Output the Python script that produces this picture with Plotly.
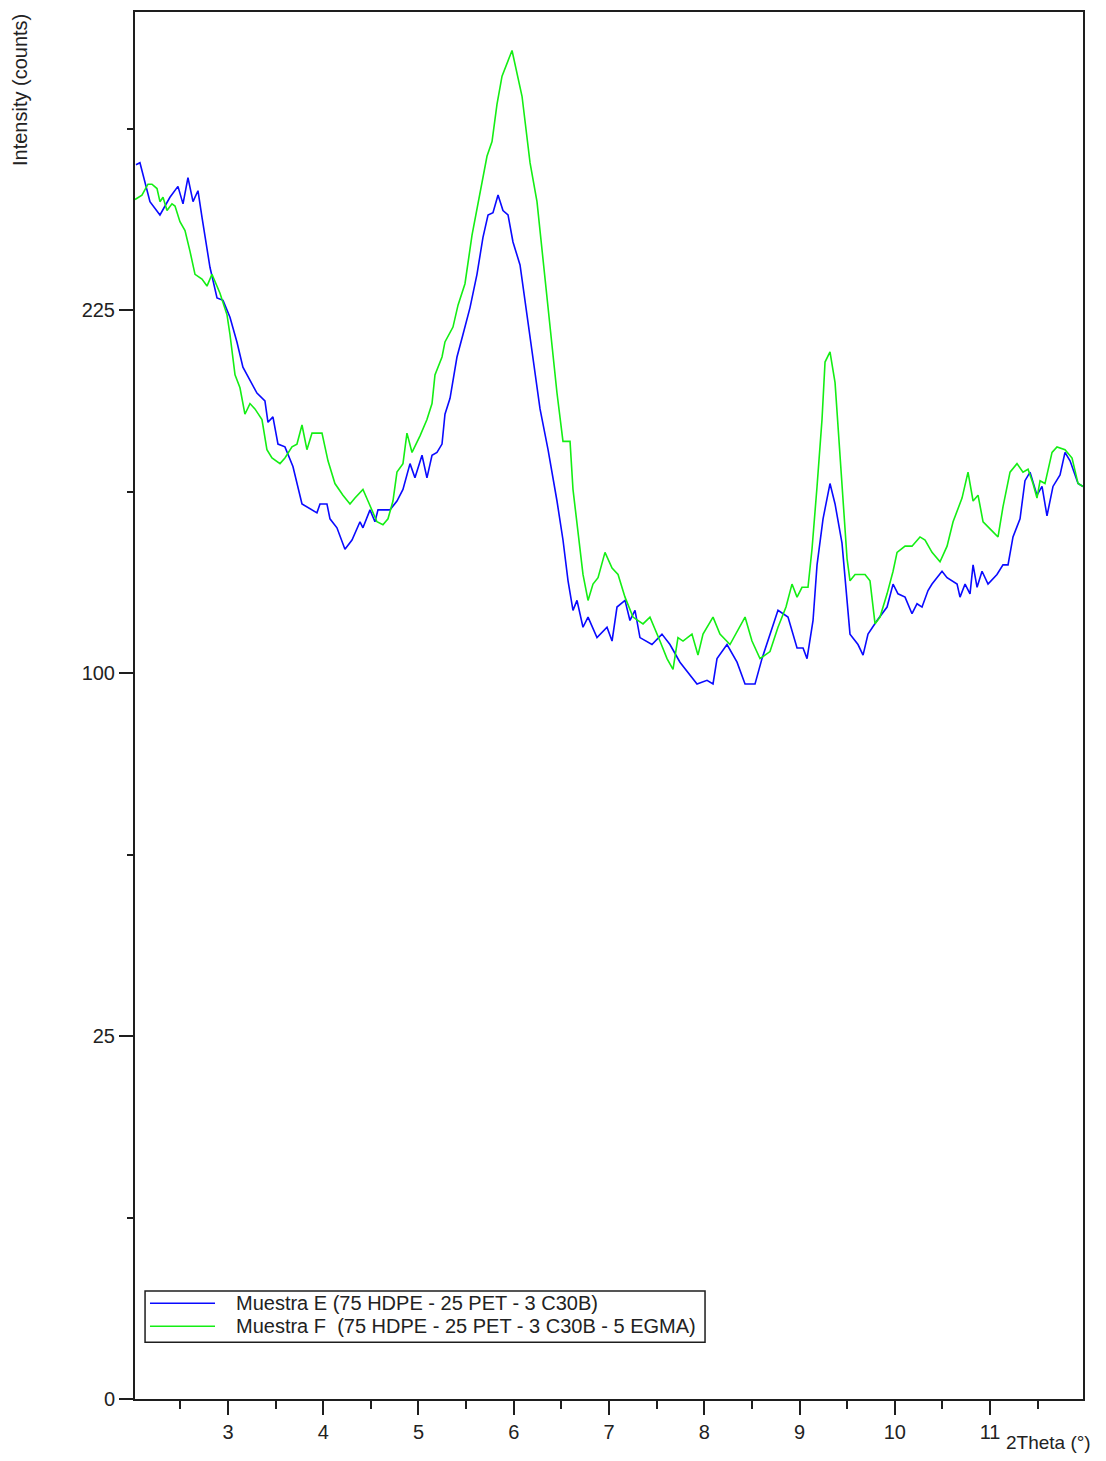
import numpy as np
import plotly.graph_objects as go

# 2Theta (deg) and intensity (counts)
theta_e = [2.034, 2.076, 2.181, 2.286, 2.391, 2.475, 2.528, 2.580, 2.633, 2.685,
           2.727, 2.811, 2.885, 2.948, 3.021, 3.094, 3.157, 3.231, 3.304, 3.388,
           3.420, 3.472, 3.525, 3.598, 3.682, 3.777, 3.882, 3.934, 3.966, 4.039,
           4.071, 4.144, 4.228, 4.302, 4.386, 4.417, 4.491, 4.543, 4.575, 4.701,
           4.774, 4.837, 4.911, 4.963, 5.037, 5.089, 5.142, 5.194, 5.247, 5.278,
           5.331, 5.404, 5.467, 5.541, 5.614, 5.677, 5.730, 5.782, 5.835, 5.887,
           5.940, 5.992, 6.066, 6.171, 6.276, 6.360, 6.454, 6.517, 6.570, 6.622,
           6.664, 6.727, 6.780, 6.874, 6.979, 7.032, 7.084, 7.168, 7.220, 7.273,
           7.325, 7.451, 7.556, 7.640, 7.745, 7.924, 8.029, 8.092, 8.134, 8.239,
           8.344, 8.428, 8.533, 8.606, 8.711, 8.774, 8.879, 8.974, 9.037, 9.079,
           9.142, 9.184, 9.247, 9.320, 9.373, 9.446, 9.530, 9.614, 9.667, 9.719,
           9.814, 9.919, 9.982, 10.034, 10.108, 10.181, 10.234, 10.286, 10.349, 10.391,
           10.496, 10.549, 10.654, 10.685, 10.738, 10.790, 10.822, 10.864, 10.916, 10.979,
           11.073, 11.136, 11.189, 11.241, 11.315, 11.367, 11.420, 11.493, 11.546, 11.598,
           11.661, 11.735, 11.787, 11.840, 11.924, 11.976]
counts_e = [289, 290, 272, 266, 274, 279, 271, 283, 272, 277,
            265, 243, 230, 229, 222, 212, 202, 197, 192, 189,
            181, 183, 173, 172, 165, 152, 150, 149, 152, 152,
            147, 144, 137, 140, 146, 144, 150, 146, 150, 150,
            153, 157, 166, 161, 169, 161, 169, 170, 173, 184,
            190, 206, 215, 226, 240, 256, 266, 267, 275, 268,
            266, 254, 244, 214, 186, 171, 153, 140, 127, 118,
            121, 113, 116, 110, 113, 109, 119, 121, 115, 118,
            110, 108, 111, 108, 103, 97, 98, 97, 104, 108,
            103, 97, 97, 104, 113, 118, 116, 107, 107, 104,
            115, 132, 147, 159, 152, 139, 111, 108, 105, 111,
            115, 119, 126, 123, 122, 117, 120, 119, 124, 126,
            130, 128, 126, 122, 126, 123, 132, 125, 130, 126,
            129, 132, 132, 141, 147, 160, 163, 155, 158, 148,
            158, 162, 170, 167, 159, 158]

theta_f = [2.024, 2.097, 2.160, 2.202, 2.255, 2.286, 2.318, 2.360, 2.412, 2.444,
           2.496, 2.549, 2.601, 2.654, 2.727, 2.780, 2.832, 2.916, 2.990, 3.021,
           3.074, 3.126, 3.178, 3.231, 3.283, 3.357, 3.409, 3.462, 3.546, 3.598,
           3.672, 3.724, 3.777, 3.829, 3.882, 3.987, 4.050, 4.123, 4.207, 4.281,
           4.333, 4.417, 4.470, 4.564, 4.627, 4.680, 4.732, 4.774, 4.837, 4.879,
           4.932, 5.016, 5.089, 5.142, 5.173, 5.247, 5.278, 5.362, 5.415, 5.488,
           5.562, 5.646, 5.719, 5.772, 5.824, 5.877, 5.982, 6.087, 6.171, 6.244,
           6.297, 6.349, 6.402, 6.454, 6.517, 6.591, 6.622, 6.696, 6.727, 6.780,
           6.832, 6.885, 6.958, 7.032, 7.095, 7.168, 7.252, 7.357, 7.430, 7.535,
           7.609, 7.672, 7.724, 7.777, 7.871, 7.934, 7.987, 8.092, 8.165, 8.270,
           8.428, 8.501, 8.585, 8.690, 8.774, 8.858, 8.921, 8.974, 9.026, 9.089,
           9.131, 9.184, 9.236, 9.268, 9.320, 9.373, 9.404, 9.457, 9.499, 9.530,
           9.583, 9.688, 9.740, 9.793, 9.845, 9.919, 9.982, 10.024, 10.108, 10.181,
           10.265, 10.318, 10.391, 10.475, 10.549, 10.612, 10.706, 10.769, 10.822, 10.874,
           10.927, 11.021, 11.084, 11.136, 11.210, 11.283, 11.346, 11.399, 11.451, 11.493,
           11.525, 11.577, 11.651, 11.703, 11.787, 11.861, 11.924, 11.976]
counts_f = [273, 275, 280, 280, 278, 272, 274, 268, 271, 270,
            263, 259, 250, 240, 238, 235, 240, 232, 223, 215,
            199, 194, 184, 188, 186, 182, 171, 168, 166, 168,
            172, 173, 180, 171, 177, 177, 167, 159, 155, 152,
            154, 157, 153, 146, 145, 147, 153, 163, 166, 177,
            170, 176, 182, 188, 199, 206, 212, 218, 227, 236,
            257, 276, 293, 300, 318, 332, 345, 322, 290, 272,
            251, 229, 211, 192, 174, 174, 157, 138, 129, 121,
            126, 128, 136, 131, 129, 122, 116, 114, 116, 109,
            104, 101, 110, 109, 111, 105, 111, 116, 111, 108,
            116, 109, 104, 106, 113, 119, 126, 122, 125, 125,
            137, 158, 182, 204, 208, 196, 179, 151, 134, 127,
            129, 129, 127, 114, 116, 123, 130, 136, 138, 138,
            141, 140, 136, 133, 138, 146, 154, 163, 153, 155,
            146, 143, 141, 151, 163, 166, 163, 164, 159, 154,
            160, 159, 170, 172, 171, 168, 159, 158]

series_names = ["Muestra E (75 HDPE - 25 PET - 3 C30B)",
                "Muestra F  (75 HDPE - 25 PET - 3 C30B - 5 EGMA)"]
series_colors = ["#0a0aff", "#14ee14"]

y_tick_counts = [0, 25, 100, 225]
y_minor_counts = [6.25, 56.25, 156.25, 306.25]
x_range = [2.024, 11.976]
y_top_counts = 365

FONT = "Liberation Sans, Arial, sans-serif"
AXIS_COLOR = "#1e1e1e"
TEXT_COLOR = "#222"


def legend_shapes():
    # hand-drawn legend box so the line samples are as long as in the original
    shapes = [dict(type="rect", xref="paper", yref="paper",
                   x0=0.0106, x1=0.6013, y0=0.0410, y1=0.0778,
                   line=dict(color=AXIS_COLOR, width=1.5), fillcolor="white")]
    for row, color in enumerate(series_colors):
        y = 0.0691 - row * 0.0166
        shapes.append(dict(type="line", xref="paper", yref="paper",
                           x0=0.0158, x1=0.0844, y0=y, y1=y,
                           line=dict(color=color, width=1.5)))
    return shapes


def legend_labels():
    notes = []
    for row, name in enumerate(series_names):
        notes.append(dict(text=name, xref="paper", yref="paper",
                          x=0.1044, y=0.0691 - row * 0.0166,
                          xanchor="left", yanchor="middle", showarrow=False,
                          font=dict(size=20, color=TEXT_COLOR)))
    return notes


def main():
    fig = go.Figure()
    for theta, counts, name, color in zip([theta_e, theta_f], [counts_e, counts_f],
                                          series_names, series_colors):
        # square-root intensity scale: plot sqrt(counts), label ticks in counts
        fig.add_trace(go.Scatter(x=theta, y=np.sqrt(counts), mode="lines", name=name,
                                 line=dict(color=color, width=1.6), showlegend=False))

    fig.update_xaxes(range=x_range, showline=True, mirror=True, linecolor=AXIS_COLOR,
                     linewidth=2, showgrid=False, zeroline=False,
                     ticks="outside", ticklen=14, tickwidth=1.5, tickcolor=AXIS_COLOR,
                     tickvals=list(range(3, 12)),
                     minor=dict(ticks="outside", ticklen=8, tickwidth=1.5,
                                tickcolor=AXIS_COLOR,
                                tickvals=[v + 0.5 for v in range(2, 12)]),
                     tickfont=dict(size=20, color=TEXT_COLOR))
    fig.update_yaxes(range=[0, np.sqrt(y_top_counts)], showline=True, mirror=True,
                     linecolor=AXIS_COLOR, linewidth=2, showgrid=False, zeroline=False,
                     ticks="outside", ticklen=14, tickwidth=1.5, tickcolor=AXIS_COLOR,
                     tickvals=np.sqrt(y_tick_counts), ticktext=[str(v) for v in y_tick_counts],
                     minor=dict(ticks="outside", ticklen=6, tickwidth=1.5,
                                tickcolor=AXIS_COLOR, tickvals=np.sqrt(y_minor_counts)),
                     tickfont=dict(size=20, color=TEXT_COLOR))

    # the page body adds an 8px margin, so the figure is 16px smaller than the window
    fig.update_layout(
        width=1090, height=1445,
        margin=dict(l=127, r=15, t=2, b=54),
        plot_bgcolor="white", paper_bgcolor="white",
        font=dict(family=FONT),
        shapes=legend_shapes(),
        annotations=legend_labels() + [
            dict(text="Intensity (counts)", xref="paper", yref="paper",
                 x=-0.1213, y=1.0, xanchor="center", yanchor="top", textangle=-90,
                 showarrow=False, font=dict(size=20, color=TEXT_COLOR)),
            dict(text="2Theta (°)", xref="paper", yref="paper",
                 x=1.0106, y=-0.0317, xanchor="right", yanchor="middle",
                 showarrow=False, font=dict(size=19, color=TEXT_COLOR)),
        ],
    )

    fig.write_html("out.html")


if __name__ == "__main__":
    main()
